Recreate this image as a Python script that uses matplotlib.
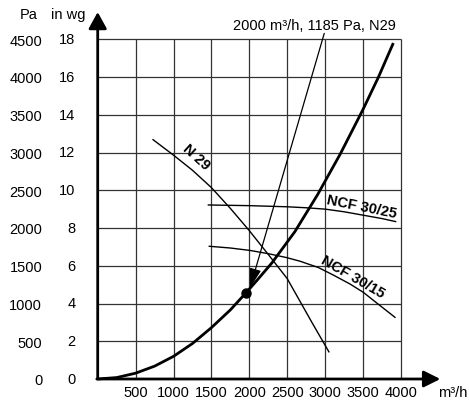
import matplotlib
matplotlib.use('Agg')
import matplotlib.pyplot as plt

plt.rcParams['font.family'] = ['Liberation Sans', 'DejaVu Sans']

# ---- data ----
x_ticks = [500, 1000, 1500, 2000, 2500, 3000, 3500, 4000]
pa_ticks = [0, 500, 1000, 1500, 2000, 2500, 3000, 3500, 4000, 4500]
inwg_labels = ['0', '2', '4', '6', '8', '10', '12', '14', '16', '18']

sys_flow = [0, 250, 500, 750, 1000, 1250, 1500, 1750, 1955, 2100, 2300, 2600, 2900, 3200, 3500, 3700, 3900]
sys_pa = [0, 19, 77, 170, 300, 470, 680, 915, 1140, 1305, 1540, 1950, 2440, 2980, 3570, 3990, 4450]

n29_flow = [730, 1000, 1250, 1500, 1750, 2000, 2250, 2500, 2820, 3050]
n29_pa = [3170, 2965, 2765, 2535, 2260, 1965, 1650, 1330, 760, 360]

ncf25_flow = [1460, 2000, 2500, 2750, 3000, 3250, 3500, 3750, 3930]
ncf25_pa = [2305, 2296, 2281, 2268, 2250, 2215, 2170, 2125, 2085]

ncf15_flow = [1472, 1750, 2009, 2250, 2493, 2669, 2910, 3108, 3329, 3504, 3681, 3922]
ncf15_pa = [1758, 1735, 1703, 1660, 1608, 1560, 1477, 1377, 1258, 1148, 1007, 817]

op_flow, op_pa = 1955, 1140
note_text = "2000 m\u00b3/h, 1185 Pa, N29"

# ---- figure ----
W, H = 469, 402
fig = plt.figure(figsize=(W / 100, H / 100), dpi=100)
x0, x1, y0, y1 = 97.7, 400.9, 380.0, 40.25
ax = fig.add_axes([x0 / W, (H - y0) / H, (x1 - x0) / W, (y0 - y1) / H])
ax.set_xlim(0, 4000)
ax.set_ylim(0, 4500)
for s in ax.spines.values():
    s.set_visible(False)

fs = 10.5
ax.set_xticks(x_ticks)
ax.set_xticklabels([str(v) for v in x_ticks], fontsize=fs)
ax.set_yticks(pa_ticks)
ax.set_yticklabels([str(v) for v in pa_ticks], fontsize=fs)
ax.tick_params(axis='both', length=0)
ax.tick_params(axis='x', pad=4)
ax.tick_params(axis='y', pad=40)

# in wg labels
ytr = ax.get_yaxis_transform()
for v, lab in zip(pa_ticks, inwg_labels):
    ax.text(-0.073, v, lab, transform=ytr, ha='right', va='center', fontsize=fs)

# headers
ax.text(-0.2276, 1.075, 'Pa', transform=ax.transAxes, ha='center', va='center', fontsize=fs)
ax.text(-0.097, 1.075, 'in wg', transform=ax.transAxes, ha='center', va='center', fontsize=fs)
ax.text(1.123, -0.037, 'm\u00b3/h', transform=ax.transAxes, ha='left', va='center', fontsize=fs)

# grid
gc = '#333333'
ax.vlines(x_ticks, 0, 4500, colors=gc, lw=0.9, clip_on=False, zorder=1)
ax.hlines(pa_ticks[1:], 0, 4000, colors=gc, lw=0.9, clip_on=False, zorder=1)

# axes with arrows
ax.annotate('', xy=(0, 1.080), xytext=(0, 0), xycoords='axes fraction',
            arrowprops=dict(arrowstyle='-|>,head_length=1.0,head_width=0.55',
                            lw=2, color='black', shrinkA=0, shrinkB=0, mutation_scale=10),
            annotation_clip=False, zorder=5)
ax.annotate('', xy=(1.13, 0), xytext=(-0.003, 0), xycoords='axes fraction',
            arrowprops=dict(arrowstyle='-|>,head_length=1.0,head_width=0.5',
                            lw=2, color='black', shrinkA=0, shrinkB=0, mutation_scale=10),
            annotation_clip=False, zorder=5)

# curves
ax.plot(sys_flow, sys_pa, color='black', lw=2.0, clip_on=False, zorder=4, solid_capstyle='butt')
ax.plot(n29_flow, n29_pa, color='black', lw=1.0, zorder=3)
ax.plot(ncf25_flow, ncf25_pa, color='black', lw=1.0, zorder=3)
ax.plot(ncf15_flow, ncf15_pa, color='black', lw=1.0, zorder=3)
ax.plot([op_flow], [op_pa], 'o', color='black', ms=6.5, zorder=6)

# curve labels (baseline sits just above each curve)
ax.text(1270, 2915, 'N 29', rotation=-42, rotation_mode='anchor', ha='center', va='baseline',
        fontsize=fs, fontweight='bold')
ax.text(3474, 2232, 'NCF 30/25', rotation=-11.5, rotation_mode='anchor', ha='center', va='baseline',
        fontsize=fs, fontweight='bold')
ax.text(3335, 1315, 'NCF 30/15', rotation=-30, rotation_mode='anchor', ha='center', va='baseline',
        fontsize=fs, fontweight='bold')

# annotation
ax.text(1789, 4692, note_text, ha='left', va='center', fontsize=fs, clip_on=False)
ax.annotate('', xy=(2009, 1205), xytext=(2989, 4578),
            arrowprops=dict(arrowstyle='-|>,head_length=1.2,head_width=0.35',
                            lw=0.9, color='black', shrinkA=0, shrinkB=0, mutation_scale=10),
            annotation_clip=False, zorder=5)

fig.savefig('out.png', dpi=100)
